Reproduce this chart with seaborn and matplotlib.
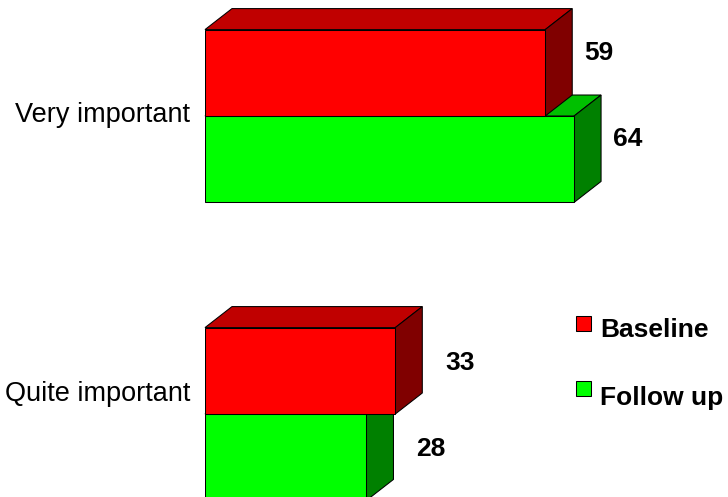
import matplotlib
matplotlib.use("Agg")
import matplotlib.pyplot as plt
import seaborn as sns
import pandas as pd
from matplotlib.patches import Polygon, Rectangle
from matplotlib import font_manager

# ---- data -------------------------------------------------------------
categories = ["Very important", "Quite important"]
series = ["Baseline", "Follow up"]
baseline = [59, 33]
follow_up = [64, 28]

# ---- style ------------------------------------------------------------
front_colors = {"Baseline": "#FF0000", "Follow up": "#00FF00"}
top_colors = {"Baseline": "#C00000", "Follow up": "#00C000"}
side_colors = {"Baseline": "#800000", "Follow up": "#008000"}
DEPTH_X, DEPTH_Y = 27, 21          # 3D depth of the boxes, in pixels
PX = 0.72                          # points per pixel at 100 dpi

sns.set_style("white")
names = {f.name for f in font_manager.fontManager.ttflist}
if "Liberation Sans Narrow" in names:
    cat_family, cat_size = "Liberation Sans Narrow", 23
else:
    cat_family, cat_size = "Liberation Sans", 19.5
bold_font = dict(family="Liberation Sans", fontweight="bold", fontsize=19)

df = pd.DataFrame({
    "category": categories * 2,
    "series": [series[0]] * len(categories) + [series[1]] * len(categories),
    "value": baseline + follow_up,
})

fig = plt.figure(figsize=(7.28, 4.97), dpi=100)
ax = fig.add_axes([205 / 728, 0, 519 / 728, 1])

sns.barplot(data=df, x="value", y="category", hue="series",
            order=categories, hue_order=series, orient="h",
            palette=front_colors, saturation=1, width=0.58,
            edgecolor="black", linewidth=0.75, errorbar=None,
            legend=False, ax=ax)

ax.set_xlim(0, 90)
ax.set_ylim(1.2785, -0.3893)
ax.set_xticks([])
ax.set_yticks([])
ax.set_xlabel("")
ax.set_ylabel("")
for s in ax.spines.values():
    s.set_visible(False)

inv = ax.transData.inverted()
zbase = {"Follow up": 1, "Baseline": 3}


def add_face(pts_disp, color, z):
    poly = Polygon(inv.transform(pts_disp), closed=True, facecolor=color,
                   edgecolor="black", linewidth=0.75, zorder=z, clip_on=False)
    ax.add_patch(poly)


# extrude every bar into a box: top face and right side face
for container, name in zip(ax.containers, series):
    for rect in container:
        rect.set_zorder(zbase[name] + 0.5)
        x0, y0 = rect.get_x(), rect.get_y()
        (ax0, ay0), (ax1, ay1) = ax.transData.transform(
            [(x0, y0), (x0 + rect.get_width(), y0 + rect.get_height())])
        left, right = min(ax0, ax1), max(ax0, ax1)
        bottom, top = min(ay0, ay1), max(ay0, ay1)
        add_face([(left, top), (right, top),
                  (right + DEPTH_X, top + DEPTH_Y), (left + DEPTH_X, top + DEPTH_Y)],
                 top_colors[name], zbase[name])
        add_face([(right, bottom), (right, top),
                  (right + DEPTH_X, top + DEPTH_Y), (right + DEPTH_X, bottom + DEPTH_Y)],
                 side_colors[name], zbase[name])

# value labels, placed beyond the end of each box
label_shift = {"Very important": (39, 13), "Quite important": (50, 1)}
bar_h = 0.29
for si, (name, values) in enumerate(zip(series, [baseline, follow_up])):
    for ci, (cat, v) in enumerate(zip(categories, values)):
        yc = ci + (si - 0.5) * bar_h
        dx, dy = label_shift[cat]
        ax.annotate(str(v), xy=(v, yc), xytext=(dx * PX, dy * PX),
                    textcoords="offset points", ha="left", va="baseline",
                    color="black", zorder=10, annotation_clip=False, **bold_font)

# category labels to the left of each group
cat_shift = {"Very important": -5.5, "Quite important": 13}
for ci, cat in enumerate(categories):
    ax.annotate(cat, xy=(0, ci), xytext=(-15 * PX, cat_shift[cat] * PX),
                textcoords="offset points", ha="right", va="baseline",
                family=cat_family, fontsize=cat_size, color="black",
                annotation_clip=False)

# legend
W, H = 728, 497
legend_rows = [("Baseline", 316, 337), ("Follow up", 381, 405)]
for name, sq_top, text_base in legend_rows:
    fig.add_artist(Rectangle((576 / W, 1 - (sq_top + 15) / H), 15 / W, 15 / H,
                             transform=fig.transFigure,
                             facecolor=front_colors[name], edgecolor="black",
                             linewidth=0.75))
    fig.text(600 / W, 1 - text_base / H, name, ha="left", va="baseline",
             color="black", **bold_font)

fig.savefig("out.png", dpi=100)
